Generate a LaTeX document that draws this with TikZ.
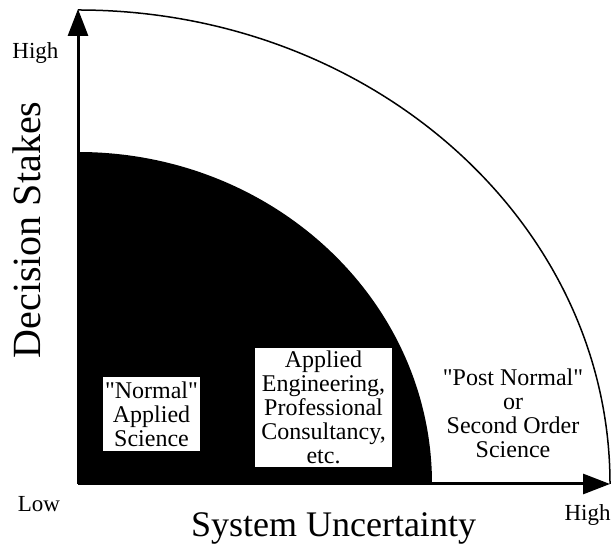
\documentclass[tikz,border=0pt]{standalone}
\usepackage{fontspec}
\setmainfont{Liberation Serif}
\usetikzlibrary{arrows.meta,positioning}

\tikzset{
  axis/.style={line width=3pt,-{Triangle[length=27pt,width=20pt]}},
  regionbox/.style={fill=white,inner sep=2pt,align=center,
    font=\fontsize{24}{24}\selectfont},
  regiontext/.style={align=center,font=\fontsize{24}{24}\selectfont},
  endlabel/.style={anchor=base,font=\fontsize{23}{23}\selectfont},
  axistitle/.style={font=\fontsize{36}{36}\selectfont}
}

\begin{document}
\begin{tikzpicture}[x=1pt,y=1pt]
  \useasboundingbox (0,0) rectangle (615,548);
  \def\outerx{532}
  \def\outery{474}
  \def\innerx{354}
  \def\innery{332}
  \coordinate(O) at (78,64);
  \coordinate(Ytop) at (78,539);
  \coordinate(Xend) at (610,64);
  % outer quarter and black quarter
  \fill (O) -- ++(\innerx,0)
    arc[start angle=0,end angle=90,x radius=\innerx,y radius=\innery] -- cycle;
  \draw[line width=1.5pt] (O) ++(0,\outery)
    arc[start angle=90,end angle=0,x radius=\outerx,y radius=\outery];
  \draw[axis](O)--(Ytop);
  \draw[axis](O)--(Xend);
  % regions
  \node[regionbox,minimum width=97pt,minimum height=74pt](normal)
    at (151.5,134){\textquotedbl Normal\textquotedbl\\Applied\\Science};
  \node[regionbox,minimum width=137pt,minimum height=119pt](applied)
    at (323.5,140.5){Applied\\Engineering,\\Professional\\Consultancy,\\etc.};
  \node[regiontext](postnormal)
    at (513,135){\textquotedbl Post Normal\textquotedbl\\or\\Second Order\\Science};
  % labels
  \node[endlabel](yhigh) at (35.5,489){High};
  \node[endlabel](ylow) at (39,36){Low};
  \node[endlabel](xhigh) at (587.5,27){High};
  \node[axistitle,anchor=base](xtitle) at (333.5,11){System Uncertainty};
  \node[axistitle,anchor=base,rotate=90,font=\fontsize{40}{40}\selectfont](ytitle)
    at (40,318){Decision Stakes};
\end{tikzpicture}
\end{document}
